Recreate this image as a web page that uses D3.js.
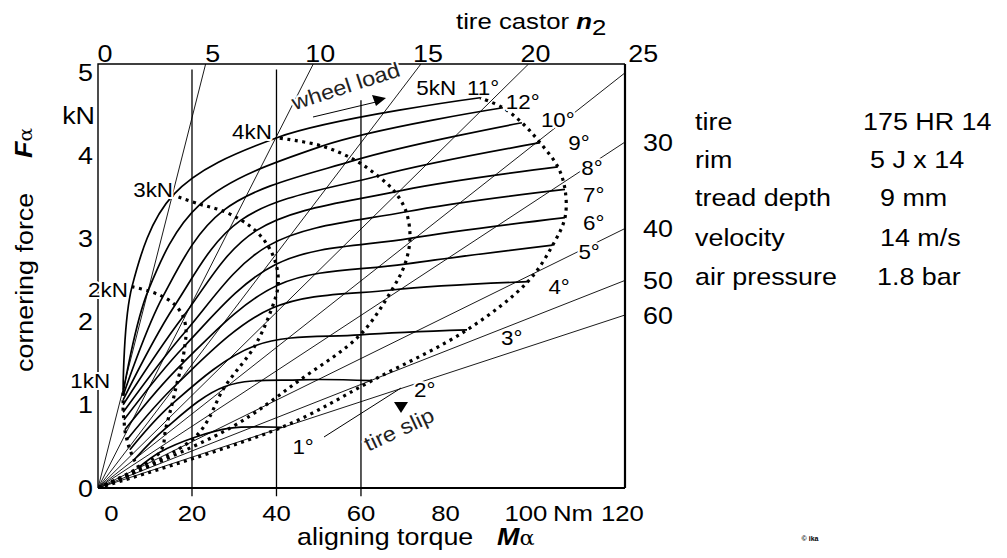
<!DOCTYPE html>
<html><head><meta charset="utf-8">
<script src="https://cdn.jsdelivr.net/npm/d3@7"></script>
<style>
body{margin:0;background:#fff}
svg text{font-family:"Liberation Sans",Arial,Helvetica,sans-serif;fill:#000}
</style></head><body>
<svg id="c" width="1007" height="558"></svg>
<script>
// ---------------- data ----------------
const loadsKN = [1, 2, 3, 4, 5];
const slipAnglesDeg = [1,2,3,4,5,6,7,8,9,10,11,12];
// aligning torque M (Nm): rows = wheel load, cols = slip angle
const torqueNm = [
  [7.2, 6.3, 5.3, 4.6, 4.1, 3.9, 3.7, 3.7, 3.7, 3.7, 3.7, 3.7],
  [12.4, 13.8, 15.3, 16.4, 17.6, 18.3, 18.6, 17.9, 16.0, 13.1, 9.6, 5.8],
  [20.7, 27.8, 34.9, 38.9, 40.4, 39.9, 38.0, 35.1, 31.6, 27.3, 21.9, 15.5],
  [29.0, 45.6, 59.8, 67.3, 70.4, 71.6, 70.7, 68.0, 64.0, 58.6, 50.8, 40.1],
  [41.3, 62.6, 85.1, 99.5, 105.4, 108.3, 108.3, 106.6, 102.4, 98.1, 93.6, 88.2]
];
// cornering force F (kN): rows = wheel load, cols = slip angle
const forceKN = [
  [0.24, 0.34, 0.46, 0.58, 0.70, 0.82, 0.91, 1.00, 1.06, 1.11, 1.14, 1.18],
  [0.43, 0.72, 1.01, 1.25, 1.49, 1.71, 1.89, 2.06, 2.20, 2.30, 2.37, 2.42],
  [0.61, 1.22, 1.71, 2.16, 2.44, 2.69, 2.91, 3.09, 3.22, 3.33, 3.41, 3.52],
  [0.72, 1.30, 1.84, 2.38, 2.69, 3.00, 3.32, 3.56, 3.75, 3.94, 4.11, 4.21],
  [0.73, 1.29, 1.90, 2.48, 2.92, 3.25, 3.59, 3.86, 4.15, 4.39, 4.57, 4.69]
];
const castorMM = [5, 10, 15, 20, 25, 30, 40, 50, 60];
const topCastorLabels = [0, 5, 10, 15, 20, 25];
const rightCastorLabels = [30, 40, 50, 60];
const xTickValues = [0, 20, 40, 60, 80, 100, 120];
const yTickValues = [0, 1, 2, 3, 4, 5];
const gridTorques = [20, 40, 60];
const loadLabels = ["1kN", "2kN", "3kN", "4kN", "5kN"];
const loadLabelM = [-4.1, 0.1, 10.8, 34.2, 77.8];
const loadLabelF = [1.29, 2.38, 3.58, 4.28, 4.81];
const slipLabels = ["1°","2°","3°","4°","5°","6°","7°","8°","9°","10°","11°","12°"];
const slipLabelM = [46.3, 75.1, 95.7, 106.9, 114.0, 115.1, 115.1, 114.7, 111.6, 106.6, 88.9, 98.3];
const slipLabelF = [0.50, 1.18, 1.81, 2.42, 2.84, 3.19, 3.52, 3.85, 4.15, 4.42, 4.81, 4.64];
const specNames = ["tire", "rim", "tread depth", "velocity", "air pressure"];
const specValues = ["175 HR 14", "5 J x 14", "9 mm", "14 m/s", "1.8 bar"];

// ---------------- layout ----------------
const svg = d3.select("#c");
const x = d3.scaleLinear().domain([-2.25, 122.5]).range([98, 625]);
const y = d3.scaleLinear().domain([0, 5.096]).range([488, 64]);
const [M0, Mmax] = x.domain();
const Ftop = y.domain()[1];
const SX = 1.12;

function label(g, px, py, str, o = {}) {
  const t = g.append("text")
    .attr("transform", `translate(${px},${py}) rotate(${o.rot || 0}) scale(${o.sx || SX},1)`)
    .attr("text-anchor", o.anchor || "middle")
    .attr("font-size", o.size || 24)
    .text(str);
  if (o.dy) t.attr("dy", o.dy);
  if (o.weight) t.attr("font-weight", o.weight);
  if (o.style) t.attr("font-style", o.style);
  if (o.fill) t.style("fill", o.fill);
  if (o.halo) t.attr("stroke", "#fff").attr("stroke-width", o.halo).attr("paint-order", "stroke").attr("stroke-linejoin", "round");
  return t;
}

svg.append("defs").append("clipPath").attr("id", "clip")
  .append("rect").attr("x", x(M0)).attr("y", y(Ftop)).attr("width", x(Mmax) - x(M0)).attr("height", y(0) - y(Ftop));

// gridlines (constant torque)
svg.append("g").selectAll("line").data(gridTorques).join("line")
  .attr("x1", d => x(d)).attr("x2", d => x(d))
  .attr("y1", d => d === 60 ? y(4.66) : y(5.03)).attr("y2", y(-0.1))
  .attr("stroke", "#000").attr("stroke-width", 1.3);

// frame
const fr = svg.append("g").attr("fill", "none").attr("stroke", "#000");
fr.append("path").attr("d", `M${x(M0)},${y(0)}V${y(Ftop)}H${x(Mmax)}`).attr("stroke-width", 1.4);
fr.append("path").attr("d", `M${x(M0)},${y(0)}H${x(Mmax)}`).attr("stroke-width", 1.8);
fr.append("path").attr("d", `M${x(Mmax)},${y(Ftop)}V${y(0)}`).attr("stroke-width", 2.2);

// castor lines from origin corner
const plot = svg.append("g").attr("clip-path", "url(#clip)");
plot.append("g").selectAll("line").data(castorMM).join("line")
  .attr("x1", x(M0)).attr("y1", y(0))
  .attr("x2", n => { const F = Math.min(Ftop, (Mmax - M0) / n); return x(M0 + n * F); })
  .attr("y2", n => { const F = Math.min(Ftop, (Mmax - M0) / n); return y(F); })
  .attr("stroke", "#000").attr("stroke-width", 0.9);

// constant slip angle lines
const curve = d3.line().x(d => x(d[0])).y(d => y(d[1])).curve(d3.curveCatmullRom.alpha(0.5));
const slipLines = slipAnglesDeg.map((s, j) => loadsKN.map((l, i) => [torqueNm[i][j], forceKN[i][j]]));
plot.append("g").selectAll("path").data(slipLines).join("path")
  .attr("d", curve).attr("fill", "none").attr("stroke", "#000").attr("stroke-width", 1.7);

// constant wheel load curves (dotted)
const loadCurves = loadsKN.map((l, i) => [[M0, 0]].concat(slipAnglesDeg.map((s, j) => [torqueNm[i][j], forceKN[i][j]])));
plot.append("g").selectAll("path").data(loadCurves).join("path")
  .attr("d", curve).attr("fill", "none").attr("stroke", "#000")
  .attr("stroke-width", 3.2).attr("stroke-dasharray", "3,4.5");

// axis tick labels
const ax = svg.append("g");
xTickValues.forEach(v => label(ax, x(v) + (v === 120 ? 8 : v === 100 ? -4 : v === 0 ? 4 : 0), 521, String(v), { size: 23 }));
label(ax, x(110.2), 521, "Nm", { size: 23 });
yTickValues.forEach(v => label(ax, 93, y(v), String(v), { anchor: "end", dy: "0.36em" }));
label(ax, 95, 124, "kN", { anchor: "end" });
topCastorLabels.forEach(n => label(ax, x(M0 + n * Ftop) + 7, 62, String(n)));
rightCastorLabels.forEach(n => label(ax, 643, y((Mmax - M0) / n), String(n), { anchor: "start", dy: "0.36em" }));

// axis titles
const tt = label(ax, 456, 29, "tire castor ", { anchor: "start", size: 23 });
tt.append("tspan").attr("font-weight", "bold").attr("font-style", "italic").text("n");
tt.append("tspan").attr("dy", 6).text("2");
label(ax, 297, 545, "aligning torque", { anchor: "start", size: 24 });
const bm = label(ax, 497, 545, "M", { anchor: "start", size: 24, weight: "bold", style: "italic" });
bm.append("tspan").attr("font-weight", "normal").attr("font-style", "normal").attr("font-family", "DejaVu Serif").attr("font-size", 20).text("α");
label(ax, 33, 372, "cornering force", { anchor: "start", rot: -90, size: 24 });
const fa = label(ax, 32, 158, "F", { anchor: "start", rot: -90, size: 24, weight: "bold", style: "italic" });
fa.append("tspan").attr("font-weight", "normal").attr("font-style", "normal").attr("font-family", "DejaVu Serif").attr("font-size", 18).text("α");

// load labels & slip labels
const an = svg.append("g");
loadLabels.forEach((t, i) => label(an, x(loadLabelM[i]), y(loadLabelF[i]), t, { size: 20, dy: "0.36em", halo: 4 }));
slipLabels.forEach((t, j) => label(an, x(slipLabelM[j]), y(slipLabelF[j]), t, { size: 20, dy: "0.36em", halo: 4 }));

// direction annotations
label(an, 348, 93, "wheel load", { rot: -18, size: 21, fill: "#222", halo: 4 });
an.append("line").attr("x1", 313).attr("y1", 117).attr("x2", 376).attr("y2", 102).attr("stroke", "#000").attr("stroke-width", 1);
an.append("path").attr("d", "M386,98 L372,95 L376,106 Z").attr("fill", "#000");
label(an, 402, 436, "tire slip", { rot: -25, size: 21, fill: "#222", halo: 4 });
an.append("line").attr("x1", 324).attr("y1", 437).attr("x2", 401).attr("y2", 388).attr("stroke", "#000").attr("stroke-width", 1);
an.append("path").attr("d", "M394,402 L408,402 L401,413 Z").attr("fill", "#000");

// spec table
const sp = svg.append("g");
const specY = [130, 168, 206, 246, 285];
specNames.forEach((t, i) => label(sp, 695, specY[i], t, { anchor: "start", size: 24 }));
const specX = [863, 870, 880, 880, 877];
specValues.forEach((t, i) => label(sp, specX[i], specY[i], t, { anchor: "start", size: 24 }));

label(svg, 810, 541, "© ika", { size: 7, weight: "bold", sx: 1 });
</script>
</body></html>
